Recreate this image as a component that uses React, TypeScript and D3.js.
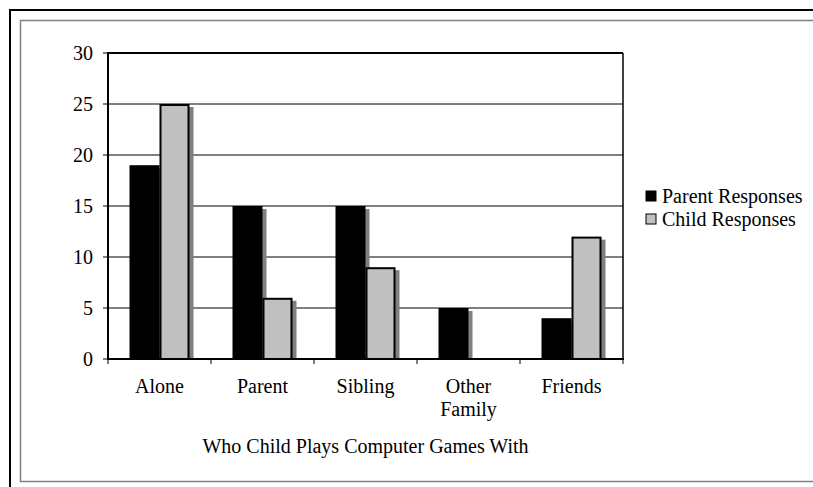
import React from "react";
import * as d3 from "d3";

const categories: string[][] = [["Alone"], ["Parent"], ["Sibling"], ["Other", "Family"], ["Friends"]];
const parentResponses = [19, 15, 15, 5, 4];
const childResponses = [25, 6, 9, 0, 12];
const yTicks = [0, 5, 10, 15, 20, 25, 30];
const seriesNames = ["Parent Responses", "Child Responses"];
const xTitle = "Who Child Plays Computer Games With";

export default function App() {
  const W = 813, H = 487;
  const left = 108, right = 623, top = 53, bottom = 359;
  const font = "'Liberation Serif', serif";
  const fs = 20;
  const x = d3.scaleBand<number>().domain(d3.range(categories.length)).range([left, right]);
  const y = d3.scaleLinear().domain([0, 30]).range([bottom, top]);
  const barW = 30;
  const series = [
    { vals: parentResponses, fill: "#000000", stroke: "none" },
    { vals: childResponses, fill: "#C0C0C0", stroke: "#000000" },
  ];
  return (
    <svg width={W} height={H} style={{ position: "absolute", left: 0, top: 0, background: "#fff" }}>
      <rect x={0} y={0} width={W} height={H} fill="#fff" />
      {/* frames */}
      <rect x={10} y={10} width={W + 20} height={H + 20} fill="none" stroke="#000" strokeWidth={2} />
      <rect x={20.5} y={20.5} width={W + 20} height={461} fill="none" stroke="#808080" strokeWidth={1.5} />
      {/* gridlines */}
      {yTicks.map((t) => (
        <line key={"g" + t} x1={left} x2={right} y1={y(t)} y2={y(t)} stroke="#000" strokeWidth={1} />
      ))}
      {/* plot border top/right */}
      <line x1={left} x2={right} y1={top} y2={top} stroke="#000" strokeWidth={2} />
      <line x1={right} x2={right} y1={top} y2={bottom} stroke="#000" strokeWidth={1.5} />
      {/* bars */}
      {series.map((s, si) =>
        s.vals.map((v, i) => {
          if (v <= 0) return null;
          const bx = (x(i) as number) + x.bandwidth() / 2 - barW + si * barW;
          const by = y(v);
          const h = bottom - by;
          return (
            <g key={si + "-" + i}>
              <rect x={bx + 4} y={by + 3} width={barW} height={h - 3} fill="#808080" />
              <rect
                x={bx + (s.stroke !== "none" ? 1 : 0)}
                y={by + (s.stroke !== "none" ? 1 : 0)}
                width={barW - (s.stroke !== "none" ? 2 : 0)}
                height={h - (s.stroke !== "none" ? 1 : 0)}
                fill={s.fill}
                stroke={s.stroke}
                strokeWidth={2}
              />
            </g>
          );
        })
      )}
      {/* axes */}
      <line x1={left} x2={left} y1={top - 1} y2={bottom + 1} stroke="#000" strokeWidth={2} />
      <line x1={left} x2={right + 1} y1={bottom} y2={bottom} stroke="#000" strokeWidth={2} />
      {yTicks.map((t) => (
        <g key={"yt" + t}>
          <line x1={left - 5} x2={left} y1={y(t)} y2={y(t)} stroke="#000" strokeWidth={1} />
          <text x={93} y={y(t)} dy="0.35em" textAnchor="end" fontFamily={font} fontSize={fs} fill="#000">
            {t}
          </text>
        </g>
      ))}
      {d3.range(categories.length + 1).map((i) => {
        const tx = i < categories.length ? (x(i) as number) : right;
        return <line key={"xt" + i} x1={tx} x2={tx} y1={bottom} y2={bottom + 5} stroke="#000" strokeWidth={1} />;
      })}
      {categories.map((c, i) => (
        <text key={"xl" + i} x={(x(i) as number) + x.bandwidth() / 2} y={393} textAnchor="middle" fontFamily={font} fontSize={fs} fill="#000">
          {c.map((line, li) => (
            <tspan key={li} x={(x(i) as number) + x.bandwidth() / 2} dy={li === 0 ? 0 : 23}>
              {line}
            </tspan>
          ))}
        </text>
      ))}
      <text x={(left + right) / 2} y={453} textAnchor="middle" fontFamily={font} fontSize={fs} fill="#000">
        {xTitle}
      </text>
      {/* legend */}
      {seriesNames.map((n, i) => (
        <g key={"lg" + i}>
          <rect x={646} y={191 + i * 23} width={10} height={10} fill={series[i].fill} stroke="#000" strokeWidth={1} />
          <text x={662} y={196 + i * 23} dy="0.35em" fontFamily={font} fontSize={fs} fill="#000">
            {n}
          </text>
        </g>
      ))}
    </svg>
  );
}
